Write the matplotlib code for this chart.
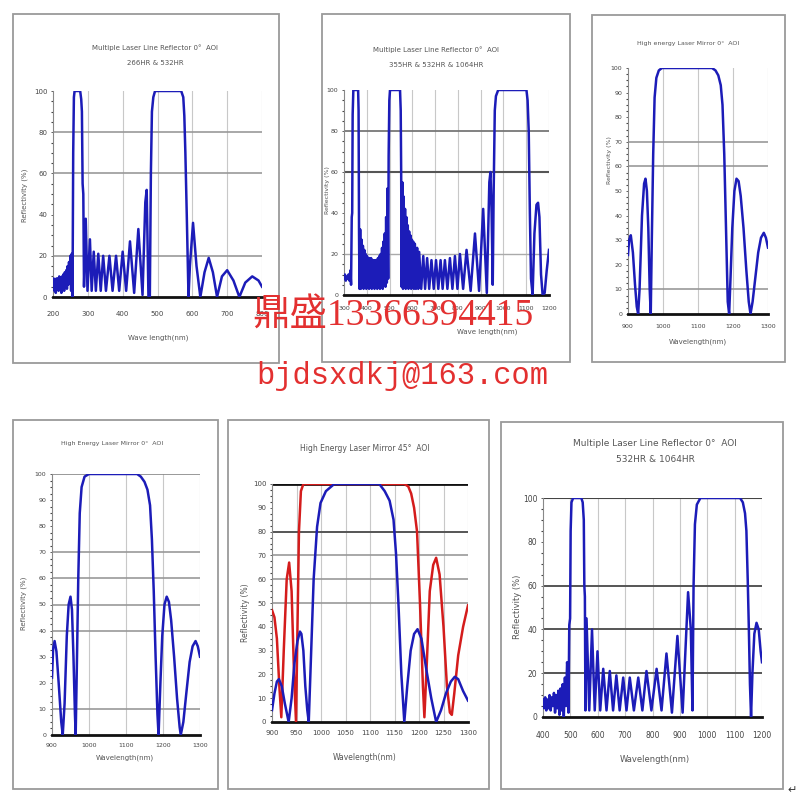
import matplotlib
matplotlib.use("Agg")
import matplotlib.pyplot as plt
from matplotlib.patches import Rectangle
from matplotlib.ticker import MultipleLocator

# ---- data ----
# panel 1 : 266HR & 532HR
wl1 = [200, 202, 204, 206, 208, 210, 212, 214, 216, 218, 220, 222, 224, 226, 228, 230, 232, 234, 236, 238,
       240, 242, 244, 246, 248, 250, 252, 254, 256, 258, 260, 262, 270, 278, 281, 283, 285, 287, 289, 294,
       299, 306, 311, 317, 323, 330, 337, 344, 352, 362, 371, 381, 390, 400, 410, 421, 433, 445, 457, 465,
       469, 474, 478, 481, 484, 488, 493, 520, 545, 568, 574, 577, 580, 584, 589, 593, 602, 612, 623, 635,
       647, 659, 671, 685, 700, 718, 735, 752, 772, 790, 800]
r1 = [4, 9, 3, 8, 2, 9, 4, 9, 3, 10, 5, 9, 2, 10, 4, 11, 3, 12, 5, 13,
      4, 15, 6, 17, 8, 20, 3, 21, 0, 70, 97, 100, 100, 100, 96, 90, 55, 50, 5, 38,
      3, 28, 3, 22, 3, 21, 3, 20, 3, 20, 3, 20, 3, 22, 3, 27, 2, 33, 1, 46,
      52, 0, 0, 60, 90, 97, 100, 100, 100, 100, 97, 88, 70, 40, 0, 15, 36, 15, 0, 12,
      19, 12, 0, 10, 13, 8, 0, 7, 10, 8, 5]

# panel 2 : 355HR & 532HR & 1064HR
wl2 = [300, 304, 308, 312, 316, 320, 324, 328, 331, 334, 336, 338, 341, 345, 362, 364, 366,
       368, 371, 374, 377, 380, 383, 386, 389, 392, 395, 398, 401, 404, 407, 410, 413, 416, 419, 422,
       425, 428, 431, 434, 437, 440, 443, 446, 449, 452, 455, 458, 461, 464, 467, 470, 473, 476, 479,
       482, 485, 488, 491, 494, 496, 499, 502, 546, 549, 551, 553, 556, 559, 562, 565, 568, 571, 574,
       577, 580, 583, 586, 589, 592, 595, 598, 601, 604, 607, 611, 616, 621, 626, 630, 639, 648, 656,
       665, 674, 684, 694, 704, 714, 724, 733, 743, 754, 765, 776, 787, 798, 809, 823, 838, 856, 875,
       893, 911, 927, 938, 943, 948, 953, 957, 962, 967, 977, 1101, 1106, 1111, 1116, 1121, 1128, 1136,
       1145, 1152, 1158, 1165, 1172, 1181, 1190, 1200]
r2 = [8, 10, 7, 9, 8, 10, 7, 12, 5, 38, 40, 88, 100, 100, 100, 90, 30,
      3, 32, 3, 27, 4, 24, 3, 22, 4, 20, 3, 19, 4, 18, 3, 18, 4, 18, 3,
      17, 4, 17, 3, 17, 4, 17, 3, 18, 4, 19, 3, 20, 4, 23, 3, 26, 5, 30,
      4, 38, 6, 52, 8, 68, 95, 100, 100, 90, 60, 4, 55, 3, 48, 4, 42, 3, 38,
      4, 34, 3, 31, 4, 29, 3, 27, 4, 26, 3, 25, 3, 23, 3, 21, 3, 19, 3,
      18, 3, 17, 3, 17, 3, 17, 3, 17, 3, 18, 3, 19, 3, 20, 3, 22, 2, 30,
      2, 42, 1, 55, 60, 40, 5, 50, 90, 97, 100, 100, 95, 80, 40, 8, 0, 30,
      44, 45, 38, 10, 0, 1, 12, 22]

# panel 3 : high energy laser mirror 0 deg
wl3 = [900, 903, 908, 914, 920, 925, 929, 933, 940, 946, 950, 954, 958, 962, 965, 968, 972, 976, 981,
       988, 997, 1010, 1100, 1140, 1150, 1158, 1165, 1170, 1175, 1180, 1185, 1189, 1193, 1198, 1204,
       1210, 1216, 1222, 1230, 1238, 1245, 1250, 1256, 1264, 1272, 1280, 1288, 1294, 1300]
r3 = [24, 30, 32, 25, 12, 3, 0, 10, 40, 53, 55, 50, 35, 10, 0, 30, 65, 88, 96,
      99, 100, 100, 100, 100, 99, 97, 93, 85, 65, 35, 5, 0, 15, 35, 50,
      55, 54, 48, 35, 18, 5, 0, 5, 15, 25, 31, 33, 31, 27]

# panel 4 : high energy laser mirror 0 deg
wl4 = [900, 903, 907, 912, 918, 925, 929, 934, 940, 945, 950, 954, 958, 962, 964, 967, 971, 975, 980,
       988, 1000, 1130, 1140, 1150, 1158, 1165, 1170, 1175, 1180, 1185, 1188, 1193, 1198, 1204, 1210,
       1216, 1222, 1230, 1238, 1245, 1248, 1255, 1263, 1272, 1280, 1288, 1294, 1300]
r4 = [22, 33, 36, 32, 20, 5, 0, 12, 38, 50, 53, 48, 30, 8, 0, 25, 60, 85, 95,
      99, 100, 100, 99, 97, 94, 88, 75, 55, 30, 8, 0, 20, 38, 50, 53,
      51, 44, 30, 14, 3, 0, 5, 16, 28, 34, 36, 34, 30]

# panel 5 : high energy laser mirror 45 deg, two polarisations
wl5_red = [900, 905, 910, 915, 919, 924, 930, 935, 940, 945, 949, 952, 955, 959, 964, 1000, 1100,
           1170, 1178, 1184, 1190, 1196, 1202, 1208, 1211, 1216, 1222, 1229, 1235, 1242, 1250, 1257,
           1263, 1267, 1272, 1280, 1290, 1300]
r5_red = [47, 44, 35, 15, 2, 30, 60, 67, 55, 20, 0, 40, 80, 97, 100, 100, 100,
          100, 99, 96, 90, 80, 50, 15, 2, 25, 55, 66, 69, 62, 40, 15,
          4, 3, 12, 28, 40, 49]
wl5_blue = [900, 905, 910, 914, 920, 926, 934, 940, 946, 952, 957, 960, 964, 968, 972, 975, 980,
            985, 992, 999, 1010, 1027, 1100, 1119, 1130, 1140, 1148, 1153, 1158, 1164, 1170, 1176,
            1183, 1190, 1197, 1205, 1215, 1225, 1235, 1245, 1255, 1265, 1273, 1280, 1290, 1300]
r5_blue = [5, 12, 17, 18, 15, 8, 0, 10, 25, 34, 38, 37, 30, 15, 5, 0, 30,
           60, 82, 92, 97, 100, 100, 100, 97, 93, 85, 71, 50, 20, 0, 15,
           30, 37, 39, 35, 22, 10, 0, 5, 12, 17, 19, 18, 13, 9]

# panel 6 : 532HR & 1064HR
wl6 = [400, 404, 408, 412, 416, 420, 424, 428, 432, 436, 440, 444, 448, 452, 456, 460, 464, 468, 472,
       476, 480, 484, 488, 490, 493, 496, 499, 501, 504, 510, 540, 545, 549, 551, 553, 555, 559, 569,
       579, 589, 599, 609, 620, 632, 644, 656, 668, 680, 693, 705, 717, 732, 748, 763, 778, 796, 815,
       833, 851, 871, 891, 910, 930, 940, 946, 950, 955, 962, 975, 1120, 1130, 1138, 1143, 1148, 1152,
       1156, 1160, 1165, 1172, 1180, 1188, 1195, 1200]
r6 = [8, 4, 9, 3, 8, 4, 10, 3, 9, 5, 11, 2, 10, 4, 12, 1, 13, 3, 15,
      0, 18, 5, 25, 22, 2, 42, 45, 85, 98, 100, 100, 98, 90, 60, 55, 3, 45, 3,
      40, 3, 30, 3, 22, 3, 21, 3, 19, 3, 18, 3, 18, 3, 18, 3, 21, 3, 22,
      3, 29, 2, 37, 2, 57, 40, 3, 60, 88, 97, 100, 100, 98, 93, 85, 62, 40,
      15, 0, 20, 38, 43, 40, 30, 25]

blue = "#1c1cb8"
red = "#d41c1c"

fig = plt.figure(figsize=(8, 8), dpi=100)
fig.patch.set_facecolor("white")


def px(l, t, r, b):
    # pixel box -> figure fraction rect
    return [l / 800, 1 - b / 800, (r - l) / 800, (b - t) / 800]


def ftext(x, y, s, **kw):
    fig.text(x / 800, 1 - y / 800, s, **kw)


def border(l, t, r, b):
    fig.add_artist(Rectangle((l / 800, 1 - b / 800), (r - l) / 800, (b - t) / 800,
                             transform=fig.transFigure, fill=False, ec="#9a9a9a", lw=1.3))


def panel(box, xlim, xstep, ystep, hgrid, curves, fs=5, xpad=8):
    ax = fig.add_axes(px(*box))
    for x0 in range(xlim[0] + xstep, xlim[1] + 1, xstep):
        ax.axvline(x0, color="#c8c8c8", lw=0.8, zorder=0)
    for yv, col, lw in hgrid:
        ax.axhline(yv, color=col, lw=lw, zorder=1)
    for wl, rr, c in curves:
        ax.plot(wl, rr, color=c, lw=1.8, zorder=3)
    ax.set_xlim(*xlim)
    ax.set_ylim(0, 100)
    ax.set_xticks(range(xlim[0], xlim[1] + 1, xstep))
    ax.set_yticks(range(0, 101, ystep))
    ax.yaxis.set_minor_locator(MultipleLocator(ystep / 4))
    for s in ["top", "right"]:
        ax.spines[s].set_visible(False)
    ax.spines["left"].set_color("#888888")
    ax.spines["left"].set_linewidth(0.8)
    ax.spines["bottom"].set_color("#111111")
    ax.spines["bottom"].set_linewidth(2)
    ax.tick_params(labelsize=fs, colors="#444444", length=1.5, width=0.6, pad=2.5)
    ax.tick_params(which="minor", length=1.2, width=0.8, color="#444444")
    ax.tick_params(axis="x", length=0, pad=xpad)
    return ax


txt = dict(color="#555555", ha="center", va="center")
ylab = dict(color="#555555", ha="center", va="center", rotation=90)

# panel 1
border(13, 14, 279, 363)
panel((53, 91, 262, 297), (200, 800), 100, 20,
      [(80, "#999999", 1.2), (60, "#999999", 1.2), (20, "#999999", 1.2)],
      [(wl1, r1, blue)], xpad=10)
ftext(155, 48, "Multiple Laser Line Reflector 0°  AOI", fontsize=5, **txt)
ftext(155, 63, "266HR & 532HR", fontsize=5, **txt)
ftext(158, 338, "Wave length(nm)", fontsize=5, **txt)
ftext(25, 195, "Reflectivity (%)", fontsize=5, **ylab)

# panel 2
border(322, 14, 570, 362)
panel((344, 90, 549, 295), (300, 1200), 100, 20,
      [(80, "#777777", 1.3), (60, "#555555", 1.5), (20, "#aaaaaa", 1.0)],
      [(wl2, r2, blue)], fs=4.5, xpad=8)
ftext(436, 50, "Multiple Laser Line Reflector 0°  AOI", fontsize=5, **txt)
ftext(436, 65, "355HR & 532HR & 1064HR", fontsize=5, **txt)
ftext(487, 332, "Wave length(nm)", fontsize=5, **txt)
ftext(327, 190, "Reflectivity (%)", fontsize=4.5, **ylab)

# panel 3
border(592, 15, 785, 362)
panel((628, 68, 768, 314), (900, 1300), 100, 10,
      [(70, "#999999", 1.2), (60, "#999999", 1.2), (10, "#999999", 1.2)],
      [(wl3, r3, blue)], fs=4.5, xpad=7)
ftext(688, 43, "High energy Laser Mirror 0°  AOI", fontsize=4.5, **txt)
ftext(698, 342, "Wavelength(nm)", fontsize=5, **txt)
ftext(610, 160, "Reflectivity (%)", fontsize=4.5, **ylab)

# panel 4
border(13, 420, 218, 789)
panel((52, 474, 200, 735), (900, 1300), 100, 10,
      [(100, "#888888", 1.2), (70, "#999999", 1.2), (60, "#999999", 1.2), (50, "#999999", 1.2),
       (40, "#999999", 1.2), (10, "#999999", 1.2)],
      [(wl4, r4, blue)], fs=4.5, xpad=6)
ftext(112, 443, "High Energy Laser Mirror 0°  AOI", fontsize=4.5, **txt)
ftext(125, 758, "Wavelength(nm)", fontsize=5, **txt)
ftext(24, 603, "Reflectivity (%)", fontsize=5, **ylab)

# panel 5
border(228, 420, 489, 789)
panel((272, 484, 468, 722), (900, 1300), 50, 10,
      [(100, "#111111", 2.0), (80, "#555555", 1.4), (70, "#999999", 1.2), (60, "#999999", 1.2),
       (50, "#999999", 1.2)],
      [(wl5_red, r5_red, red), (wl5_blue, r5_blue, blue)], fs=5, xpad=6)
ftext(365, 448, "High Energy Laser Mirror 45°  AOI", fontsize=5.5, **txt)
ftext(365, 758, "Wavelength(nm)", fontsize=5.5, **txt)
ftext(245, 613, "Reflectivity (%)", fontsize=5.5, **ylab)

# panel 6
border(501, 422, 783, 789)
panel((543, 498, 762, 717), (400, 1200), 100, 20,
      [(100, "#444444", 1.5), (60, "#555555", 1.4), (40, "#555555", 1.4), (20, "#555555", 1.4)],
      [(wl6, r6, blue)], fs=5.5, xpad=10)
ftext(655, 443, "Multiple Laser Line Reflector 0°  AOI", fontsize=6.5, **txt)
ftext(655, 459, "532HR & 1064HR", fontsize=6.5, **txt)
ftext(655, 760, "Wavelength(nm)", fontsize=6, **txt)
ftext(517, 607, "Reflectivity (%)", fontsize=6, **ylab)

# watermark
ftext(252, 326, "鼎盛13366394415", fontsize=27, color="#e33030", ha="left", va="baseline",
      family=["Liberation Serif", "Noto Sans CJK SC"], zorder=10)
ftext(256, 384, "bjdsxdkj@163.com", fontsize=22, color="#e33030", ha="left", va="baseline",
      family=["Liberation Mono"], zorder=10)
ftext(792, 790, "↵", fontsize=8, color="#333333", ha="center", va="center")

fig.savefig("out.png", dpi=100)
